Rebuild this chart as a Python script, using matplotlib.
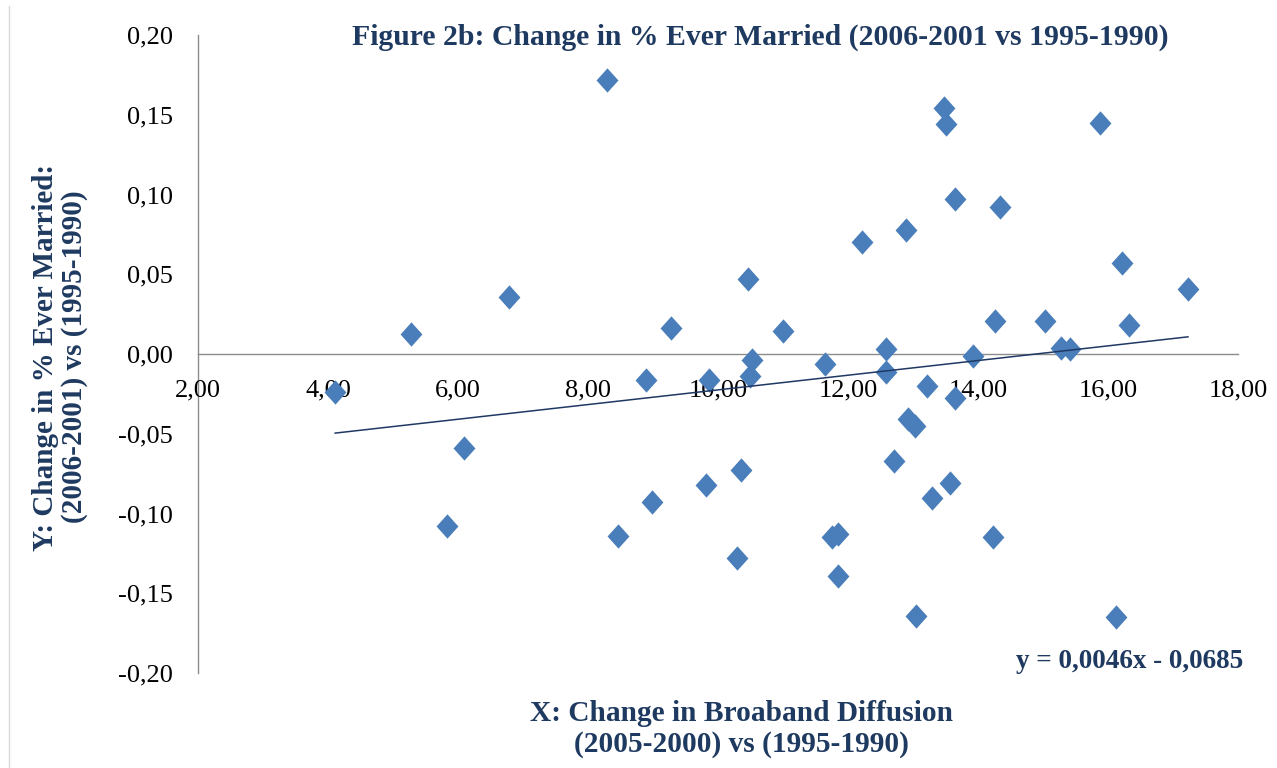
import matplotlib
matplotlib.use("Agg")
import matplotlib.pyplot as plt
from matplotlib.ticker import FuncFormatter, MultipleLocator
from matplotlib.lines import Line2D
import numpy as np

# change in broadband diffusion (x) vs change in % ever married (y)
broadband = [4.11, 5.28, 6.78, 6.09, 5.83, 8.29, 8.89, 8.46, 8.98, 9.28,
             9.86, 9.82, 10.46, 10.52, 10.49, 10.35, 10.29, 11.00, 11.65, 12.22,
             11.75, 11.85, 11.85, 12.58, 12.58, 12.89, 12.71, 12.92, 13.03, 13.22,
             13.29, 13.05, 13.48, 13.51, 13.65, 13.65, 13.57, 13.92, 14.34, 14.26,
             14.23, 15.03, 15.28, 15.42, 15.88, 16.22, 16.32, 16.12, 17.23]
married = [-0.024, 0.0125, 0.036, -0.059, -0.108, 0.172, -0.016, -0.114, -0.093, 0.016,
           -0.016, -0.082, 0.047, -0.004, -0.014, -0.073, -0.128, 0.0144, -0.006, 0.070,
           -0.115, -0.113, -0.139, 0.003, -0.011, 0.078, -0.067, -0.041, -0.045, -0.020,
           -0.090, -0.164, 0.154, 0.144, 0.097, -0.0276, -0.081, -0.001, 0.092, 0.021,
           -0.115, 0.021, 0.004, 0.003, 0.145, 0.057, 0.018, -0.165, 0.041]
slope, intercept = 0.0046, -0.0685

title = "Figure 2b: Change in % Ever Married (2006-2001 vs 1995-1990)"
xlabel = "X: Change in Broaband Diffusion\n(2005-2000) vs (1995-1990)"
ylabel = "Y: Change in % Ever Married:\n(2006-2001) vs (1995-1990)"
equation = "y = 0,0046x - 0,0685"

W, H = 1277, 768
navy = "#1F3A60"
plt.rcParams["font.family"] = ["Liberation Serif", "DejaVu Serif"]

fig = plt.figure(figsize=(W / 100, H / 100), dpi=100)
ax = fig.add_axes([198 / W, (H - 673) / H, 1040 / W, 638 / H])

diamond = [(0, 1), (0.9, 0), (0, -1), (-0.9, 0), (0, 1)]
ax.plot(broadband, married, linestyle="none", marker=diamond, markersize=17.5,
        color="#4A7EBB", markeredgewidth=0, zorder=3)

xs = np.array([min(broadband), max(broadband)])
ax.plot(xs, slope * xs + intercept, color="#1F3864", linewidth=1.1, zorder=4)

ax.set_xlim(2, 18)
ax.set_ylim(-0.20, 0.20)
ax.xaxis.set_major_locator(MultipleLocator(2))
ax.yaxis.set_major_locator(MultipleLocator(0.05))
fmt = FuncFormatter(lambda v, p: f"{round(v, 2) + 0.0:.2f}".replace(".", ","))
ax.xaxis.set_major_formatter(fmt)
ax.yaxis.set_major_formatter(fmt)

for s in ("top", "right"):
    ax.spines[s].set_visible(False)
ax.spines["bottom"].set_position(("data", 0))
for s in ("bottom", "left"):
    ax.spines[s].set_color("#8C8C8C")
    ax.spines[s].set_linewidth(1.0)
    ax.spines[s].set_zorder(1)
ax.tick_params(axis="x", length=0, pad=18, labelsize=19)
ax.tick_params(axis="y", length=0, pad=18, labelsize=19)

fig.text(760 / W, 1 - 37 / H, title, ha="center", va="center",
         fontsize=21.4, fontweight="bold", color=navy)
fig.text(741 / W, 1 - 729 / H, xlabel, ha="center", va="center",
         fontsize=21.2, fontweight="bold", color=navy, linespacing=1.22)
fig.text(60 / W, 1 - 357 / H, ylabel, ha="center", va="center", rotation=90,
         fontsize=21, fontweight="bold", color=navy, linespacing=1.1)
fig.text(1243 / W, 1 - 662 / H, equation, ha="right", va="center",
         fontsize=19.5, fontweight="bold", color=navy)

fig.add_artist(Line2D([9 / W, 9 / W], [0, 1 - 6 / H], color="#D9D9D9", linewidth=1))

fig.savefig("out.png", dpi=100)
